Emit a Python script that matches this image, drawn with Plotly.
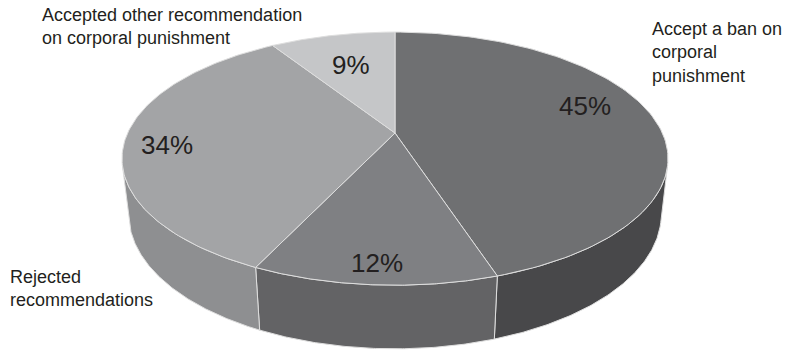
import numpy as np
import plotly.graph_objects as go

# ---- data (clockwise from 12 o'clock) ----
categories = [
    "Accept a ban on corporal punishment",
    "(unlabelled)",
    "Rejected recommendations",
    "Accepted other recommendation on corporal punishment",
]
shares = [45, 12, 34, 9]
pct_labels = ["45%", "12%", "34%", "9%"]

# ---- style ----
top_colors = ["#6f7072", "#7f8083", "#a3a4a6", "#c5c6c8"]
side_colors = ["#48484a", "#636365", "#8e8f91", "#b0b1b3"]
edge_color = "#dedede"
text_color = "#231f20"
FONT = "Liberation Sans, Arial, Helvetica, sans-serif"
LABEL_R = [0.78, 0.88, 0.84, 0.66]      # radial position of % labels
LABEL_F = [0.45, 0.50, 0.475, 0.50]     # position along the slice arc

W, H = 786, 352
PHI = np.radians(27.0)   # camera elevation
DIST = 4.4               # camera distance (in pie radii)
THICK = 0.235            # pie thickness (in pie radii)
CX, CY = 395.0, 133.0    # pixel position of pie centre
HALF_W = 273.0           # pixel half width of the top face

cph, sph = np.cos(PHI), np.sin(PHI)


def project(X, Y, Z):
    qx = X
    qy = Y + DIST * cph
    qz = Z - DIST * sph
    depth = qy * cph - qz * sph
    return qx / depth, (qy * sph + qz * cph) / depth


tt = np.linspace(0, 2 * np.pi, 2000)
K = HALF_W / np.max(project(np.sin(tt), np.cos(tt), 0 * tt)[0])


def to_px(X, Y, Z):
    sx, sy = project(X, Y, Z)
    return CX + K * sx, CY - K * sy


def rim(t0, t1, z, n=120):
    th = np.linspace(t0, t1, n)
    return to_px(np.sin(th), np.cos(th), np.full_like(th, z))


total = float(sum(shares))
edges = np.concatenate([[0.0], np.cumsum(shares)]) / total * 2 * np.pi
vis = np.arccos(-1.0 / (DIST * cph))
vis_lo, vis_hi = vis, 2 * np.pi - vis

fig = go.Figure()

# sides (front, visible part)
for i in range(len(shares)):
    a, b = max(edges[i], vis_lo), min(edges[i + 1], vis_hi)
    if b <= a:
        continue
    xt, yt = rim(a, b, 0.0)
    xb, yb = rim(a, b, -THICK)
    xs = np.concatenate([xt, xb[::-1], xt[:1]])
    ys = np.concatenate([yt, yb[::-1], yt[:1]])
    fig.add_trace(go.Scatter(x=xs, y=ys, mode="lines", fill="toself",
                             fillcolor=side_colors[i],
                             line=dict(color=edge_color, width=1),
                             hoverinfo="skip", showlegend=False))

# top faces
ax, ay = to_px(0.0, 0.0, 0.0)
for i in range(len(shares)):
    xt, yt = rim(edges[i], edges[i + 1], 0.0)
    xs = np.concatenate([[ax], xt, [ax]])
    ys = np.concatenate([[ay], yt, [ay]])
    fig.add_trace(go.Scatter(x=xs, y=ys, mode="lines", fill="toself",
                             fillcolor=top_colors[i],
                             line=dict(color=edge_color, width=1),
                             hoverinfo="skip", showlegend=False,
                             name=categories[i]))

# percentage labels
for i in range(len(shares)):
    ang = edges[i] + LABEL_F[i] * (edges[i + 1] - edges[i])
    r = LABEL_R[i]
    lx, ly = to_px(r * np.sin(ang), r * np.cos(ang), 0.0)
    fig.add_annotation(x=lx, y=ly, xref="x", yref="y", text=pct_labels[i],
                       showarrow=False, xanchor="center", yanchor="middle",
                       font=dict(family=FONT, size=26, color=text_color))

# category labels
cat_text = [
    "Accept a ban on<br>corporal<br>punishment",
    None,
    "Rejected<br>recommendations",
    "Accepted other recommendation<br>on corporal punishment",
]
cat_pos = [(650, 17), None, (8, 265), (40, 3)]
for txt, pos in zip(cat_text, cat_pos):
    if txt is None:
        continue
    fig.add_annotation(x=pos[0], y=pos[1], xref="x", yref="y", text=txt,
                       showarrow=False, xanchor="left", yanchor="top", align="left",
                       font=dict(family=FONT, size=18, color=text_color))

fig.update_layout(
    width=W, height=H,
    margin=dict(l=0, r=0, t=0, b=0),
    paper_bgcolor="white", plot_bgcolor="white",
    xaxis=dict(range=[0, W], visible=False, fixedrange=True),
    yaxis=dict(range=[H, 0], visible=False, fixedrange=True),
    showlegend=False,
)

fig.write_html("out.html")
